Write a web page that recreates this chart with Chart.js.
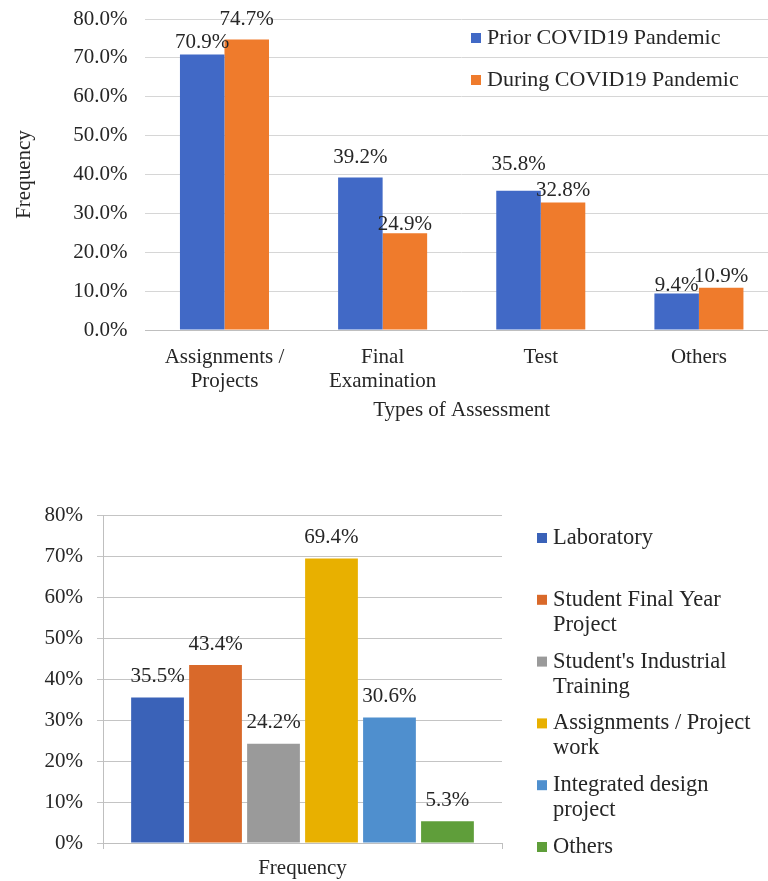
<!DOCTYPE html>
<html>
<head>
<meta charset="utf-8">
<script src="https://cdn.jsdelivr.net/npm/chart.js@4.4.1/dist/chart.umd.min.js"></script>
<style>
  html, body { margin: 0; padding: 0; background: #fff; width: 768px; height: 881px; overflow: hidden; position: relative; }
  #assessChart { position: absolute; left: 0; top: 0; }
  #methodChart { position: absolute; left: 0; top: 490px; }
</style>
</head>
<body>
<canvas id="assessChart" width="782" height="440"></canvas>
<canvas id="methodChart" width="768" height="391"></canvas>
<script>
// top chart data
const assessTypes = [["Assignments /", "Projects"], ["Final", "Examination"], "Test", "Others"];
const periodNames = ["Prior COVID19 Pandemic", "During COVID19 Pandemic"];
const priorValues = [70.9, 39.2, 35.8, 9.4];
const duringValues = [74.7, 24.9, 32.8, 10.9];

// bottom chart data
const methodCategory = ["Frequency"];
const methodNames = [
  ["Laboratory"],
  ["Student Final Year", "Project"],
  ["Student's Industrial", "Training"],
  ["Assignments / Project", "work"],
  ["Integrated design", "project"],
  ["Others"]
];
const methodValues = [35.5, 43.4, 24.2, 69.4, 30.6, 5.3];

const FONT = "'Liberation Serif', 'Times New Roman', serif";
const INK = "#262626";
Chart.defaults.font.family = FONT;
Chart.defaults.color = INK;

// how far each value label sits above its bar (the original labels were nudged by hand)
const assessLabelLift = [[12, 20, 26, 8], [20, 9, 12, 11]];

const valueLabels = {
  id: "valueLabels",
  afterDatasetsDraw(chart, args, opts) {
    const ctx = chart.ctx;
    ctx.save();
    ctx.font = `${opts.size}px ${FONT}`;
    ctx.fillStyle = INK;
    ctx.textAlign = "center";
    ctx.textBaseline = "middle";
    chart.data.datasets.forEach((ds, i) => {
      chart.getDatasetMeta(i).data.forEach((bar, j) => {
        const lift = opts.lift ? opts.lift[i][j] : opts.offset;
        ctx.fillText(ds.data[j].toFixed(1) + "%", bar.x, bar.y - lift);
      });
    });
    ctx.restore();
  }
};

const boxLegend = {
  id: "boxLegend",
  afterDraw(chart, args, opts) {
    const ctx = chart.ctx;
    ctx.save();
    ctx.font = `${opts.size}px ${FONT}`;
    ctx.textBaseline = "middle";
    ctx.textAlign = "left";
    chart.data.datasets.forEach((ds, i) => {
      const y = opts.y + i * opts.step;
      const lines = opts.lines ? opts.lines[i] : [ds.label];
      ctx.fillStyle = ds.backgroundColor;
      ctx.fillRect(opts.x, y - opts.box / 2, opts.box, opts.box);
      ctx.fillStyle = INK;
      lines.forEach((t, k) => ctx.fillText(t, opts.x + opts.box + 6, y + k * opts.lineGap));
    });
    ctx.restore();
  }
};

// y axis keeps a fixed width and does not push the plot down
const fixY = w => s => { s.width = w; s.paddingTop = 0; s.paddingBottom = 0; };

new Chart(document.getElementById("assessChart"), {
  type: "bar",
  data: {
    labels: assessTypes,
    datasets: [
      { label: periodNames[0], data: priorValues, backgroundColor: "#4169c6" },
      { label: periodNames[1], data: duringValues, backgroundColor: "#ef7b2c" }
    ]
  },
  options: {
    responsive: false,
    animation: false,
    layout: { padding: { top: 19, right: 4, left: 0, bottom: 0 } },
    datasets: { bar: { categoryPercentage: 0.563, barPercentage: 1 } },
    plugins: {
      legend: { display: false },
      tooltip: { enabled: false },
      valueLabels: { size: 21, lift: assessLabelLift },
      boxLegend: { x: 471, y: 38, step: 42, box: 10, size: 22, lineGap: 24 }
    },
    scales: {
      x: {
        grid: { display: false, drawTicks: false },
        border: { display: true, color: "#bfbfbf" },
        ticks: { font: { size: 21, lineHeight: 1.15 }, padding: 15, maxRotation: 0, autoSkip: false },
        title: { display: true, text: "Types of Assessment", font: { size: 21, lineHeight: 1.2 }, padding: { top: 0, bottom: 17 } },
        afterFit: s => { s.height = 110; }
      },
      y: {
        min: 0, max: 80,
        grid: { color: "#d6d6d6", drawTicks: false },
        border: { display: false },
        ticks: { stepSize: 10, padding: 18, font: { size: 21 }, callback: v => v.toFixed(1) + "%" },
        title: { display: true, text: "Frequency", font: { size: 21, lineHeight: 1.2 }, padding: { top: 12, bottom: 0 } },
        afterFit: fixY(145.4)
      }
    }
  },
  plugins: [valueLabels, boxLegend]
});

const methodColors = ["#3a62b8", "#d9692a", "#9a9a9a", "#e8b000", "#4f8fce", "#5f9e3a"];

new Chart(document.getElementById("methodChart"), {
  type: "bar",
  data: {
    labels: methodCategory,
    datasets: methodNames.map((n, i) => ({
      label: n.join(" "),
      data: [methodValues[i]],
      backgroundColor: methodColors[i]
    }))
  },
  options: {
    responsive: false,
    animation: false,
    layout: { padding: { top: 25, right: 266, left: 0, bottom: 0 } },
    datasets: { bar: { categoryPercentage: 0.872, barPercentage: 0.91 } },
    plugins: {
      legend: { display: false },
      tooltip: { enabled: false },
      valueLabels: { size: 21, offset: 21 },
      boxLegend: { x: 537, y: 48, step: 61.8, box: 10, size: 22.5, lineGap: 25, lines: methodNames }
    },
    scales: {
      x: {
        grid: { offset: true, drawOnChartArea: false, tickLength: 6, color: "#bfbfbf" },
        border: { display: true, color: "#bfbfbf" },
        ticks: { font: { size: 21, lineHeight: 1.2 }, padding: 7 },
        afterFit: s => { s.height = 38; }
      },
      y: {
        min: 0, max: 80,
        grid: { color: "#c4c4c4", tickLength: 6 },
        border: { display: true, color: "#bfbfbf" },
        ticks: { stepSize: 10, padding: 14, font: { size: 21 }, callback: v => v + "%" },
        afterFit: fixY(103)
      }
    }
  },
  plugins: [valueLabels, boxLegend]
});
</script>
</body>
</html>
